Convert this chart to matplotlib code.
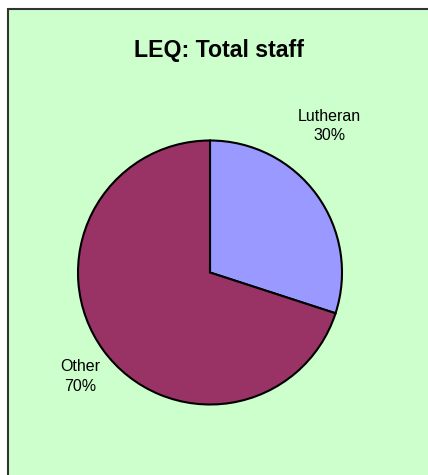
import matplotlib
matplotlib.use("Agg")
import matplotlib.pyplot as plt
from matplotlib.patches import Rectangle

plt.rcParams['font.family'] = ['Liberation Sans', 'DejaVu Sans']

categories = ["Lutheran", "Other"]
values = [30, 70]
colors = ["#9999FF", "#993366"]
title = "LEQ: Total staff"

W, H = 428, 475
fig = plt.figure(figsize=(W / 100, H / 100), dpi=100)
fig.patch.set_facecolor("white")

# background box (extends beyond right/bottom edges)
fig.add_artist(Rectangle((8 / W, -0.1), 1.2, 1 - 9 / H + 0.1, transform=fig.transFigure,
                         facecolor="#CCFFCC", edgecolor="#333333", linewidth=1.5, zorder=0))

fig.text(219 / W, 1 - 50 / H, title, ha="center", va="center",
         fontsize=16.7, fontweight="bold", color="black")

cx, cy, r = 210, 272.5, 132
ax = fig.add_axes([(cx - r) / W, 1 - (cy + r) / H, 2 * r / W, 2 * r / H])
ax.set_facecolor("none")
total = sum(values)
labels = [f"{c}\n{round(v / total * 100)}%" for c, v in zip(categories, values)]
wedges, texts = ax.pie(values, labels=labels, colors=colors, startangle=90,
                       counterclock=False,
                       wedgeprops=dict(edgecolor="black", linewidth=1.5),
                       textprops=dict(fontsize=11.5, color="black", linespacing=1.4))
label_pos = [(0.907, 1.11), (-0.985, -0.785)]
for t, p in zip(texts, label_pos):
    t.set_position(p)
    t.set_ha("center")
    t.set_va("center")
ax.set_xlim(-1, 1)
ax.set_ylim(-1, 1)
ax.set_aspect("equal")
ax.axis("off")

fig.savefig("out.png", dpi=100)
